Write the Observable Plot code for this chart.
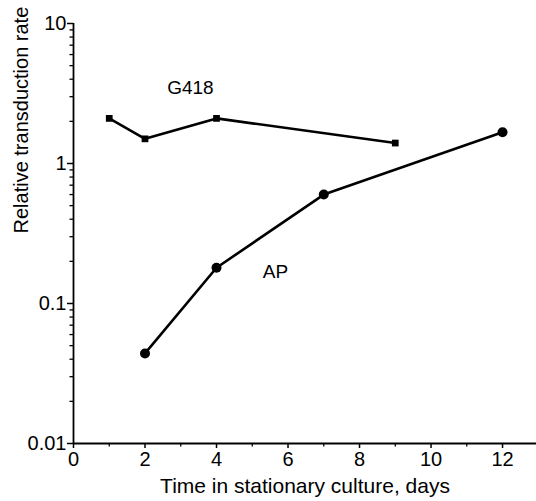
<!DOCTYPE html>
<html>
<head>
<meta charset="utf-8">
<script src="https://cdn.jsdelivr.net/npm/d3@7"></script>
<script src="https://cdn.jsdelivr.net/npm/@observablehq/plot@0.6"></script>
<style>
  html, body { margin: 0; padding: 0; background: #fff; }
  #chart svg { display: block; }
</style>
</head>
<body>
<div id="chart"></div>
<script>
const g418Days = [1, 2, 4, 9];
const g418Rate = [2.1, 1.5, 2.1, 1.4];
const apDays = [2, 4, 7, 12];
const apRate = [0.044, 0.18, 0.6, 1.67];
const yMajorTicks = [0.01, 0.1, 1, 10];
const yTickLabels = ["0.01", "0.1", "1", "10"];
const xMajorTicks = [0, 2, 4, 6, 8, 10, 12];
const xMinorTicks = [1, 3, 5, 7, 9, 11];
const seriesLabels = ["G418", "AP"];
const labelX = [3.27, 5.65];
const labelY = [3.45, 0.168];

const yMinorTicks = [];
for (const d of [0.01, 0.1, 1]) for (let k = 2; k <= 9; k++) yMinorTicks.push(+(d * k).toPrecision(3));

const g418 = g418Days.map((d, i) => ({day: d, rate: g418Rate[i]}));
const ap = apDays.map((d, i) => ({day: d, rate: apRate[i]}));
const labels = seriesLabels.map((t, i) => ({text: t, x: labelX[i], y: labelY[i]}));

const font = "'Liberation Sans', Arial, Helvetica, sans-serif";

const W = 536, H = 501, ML = 73, MR = 0, MT = 23, MB = 58;
const frameW = W - ML - MR, frameH = H - MT - MB;
const xMin = 0, yMin = 0.01;

// outward tick marks as short rules hugging the axes
const yTick = (data, len, sw) => Plot.ruleY(data, {y: d => d, insetRight: frameW - len, dx: -len, stroke: "#000", strokeWidth: sw});
const xTick = (data, len, sw) => Plot.ruleX(data, {x: d => d, insetTop: frameH - len, dy: len, stroke: "#000", strokeWidth: sw});

const chart = Plot.plot({
  width: W,
  height: H,
  marginLeft: ML,
  marginRight: MR,
  marginTop: MT,
  marginBottom: MB,
  style: {fontFamily: font, fontSize: "18px", color: "#000", background: "#fff"},
  x: {domain: [0, 12.95]},
  y: {type: "log", domain: [0.01, 10]},
  marks: [
    Plot.line(g418, {x: "day", y: "rate", strokeWidth: 2.6, stroke: "#000"}),
    Plot.dot(g418, {x: "day", y: "rate", symbol: "square", r: 3.8, fill: "#000", stroke: "none"}),
    Plot.line(ap, {x: "day", y: "rate", strokeWidth: 2.6, stroke: "#000"}),
    Plot.dot(ap, {x: "day", y: "rate", symbol: "circle", r: 5, fill: "#000", stroke: "none"}),
    Plot.text(labels, {x: "x", y: "y", text: "text", fontSize: 19}),
    Plot.text(["Time in stationary culture, days"], {frameAnchor: "bottom", dy: 49, fontSize: 21}),
    Plot.text(["Relative transduction rate"], {frameAnchor: "left", dx: -52, rotate: -90, fontSize: 20}),
    Plot.ruleX([xMin], {y1: yMin, y2: 10, strokeWidth: 1.8}),
    Plot.ruleY([yMin], {strokeWidth: 1.8}),
    yTick(yMajorTicks, 6, 1.5),
    yTick(yMinorTicks, 3.5, 1.3),
    xTick(xMajorTicks, 5, 1.5),
    xTick(xMinorTicks, 3.5, 1.3),
    Plot.axisY(yMajorTicks, {tickSize: 0, tickPadding: 7, tickFormat: d => yTickLabels[yMajorTicks.indexOf(d)], fontSize: 20, label: null}),
    Plot.axisX(xMajorTicks, {tickSize: 0, tickPadding: 8, fontSize: 20, label: null})
  ]
});
document.getElementById("chart").appendChild(chart);
</script>
</body>
</html>
